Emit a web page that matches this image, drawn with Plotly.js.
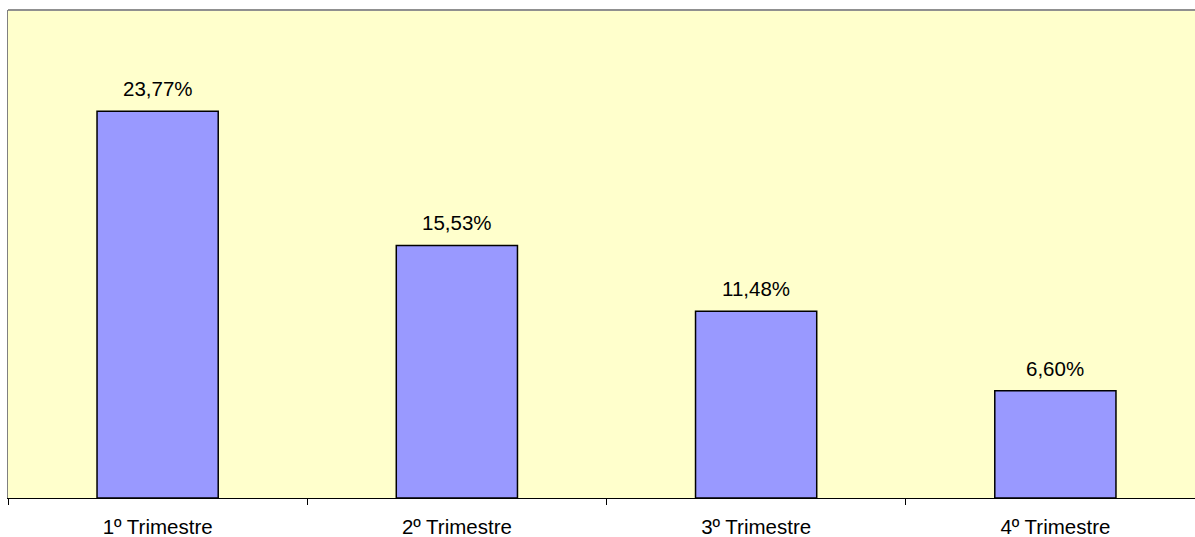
<!DOCTYPE html>
<html>
<head>
<meta charset="utf-8">
<script src="https://cdn.plot.ly/plotly-3.0.1.min.js"></script>
<style>
html,body{margin:0;padding:0;overflow:hidden;background:#fff;}
#chart{width:1206px;height:537px;}
</style>
</head>
<body>
<div id="chart"></div>
<script>
const categories = ["1º Trimestre", "2º Trimestre", "3º Trimestre", "4º Trimestre"];
const values = [23.77, 15.53, 11.48, 6.60];
const labels = ["23,77%", "15,53%", "11,48%", "6,60%"];

const trace = {
  type: "bar",
  x: categories,
  y: values,
  marker: {color: "#9999FF", line: {color: "#000000", width: 1.5}},
  hoverinfo: "none"
};

const annotations = categories.map((c, i) => ({
  x: c, y: values[i], xref: "x", yref: "y",
  text: labels[i], showarrow: false,
  yanchor: "bottom", yshift: 9,
  font: {family: "Liberation Sans, Arial, sans-serif", size: 20.5, color: "#000"}
}));

const layout = {
  width: 1206, height: 537,
  margin: {l: 8, r: 1, t: 10, b: 39, pad: 0},
  paper_bgcolor: "#FFFFFF",
  plot_bgcolor: "#FFFFCC",
  bargap: 0.595,
  showlegend: false,
  font: {family: "Liberation Sans, Arial, sans-serif", size: 20.5, color: "#000"},
  xaxis: {
    type: "category",
    tickson: "boundaries",
    ticks: "outside", ticklen: 6, tickcolor: "#000", tickwidth: 1,
    showline: true, linecolor: "#000", linewidth: 1,
    showgrid: false, zeroline: false,
    ticklabelstandoff: 10,
    tickfont: {family: "Liberation Sans, Arial, sans-serif", size: 20.5, color: "#000"}
  },
  yaxis: {
    range: [0, 30],
    showgrid: false, zeroline: false, showticklabels: false, ticks: "",
    showline: true, linecolor: "#808080", linewidth: 1.5
  },
  shapes: [{
    type: "line", xref: "paper", yref: "paper",
    x0: 0, x1: 1, y0: 1, y1: 1,
    line: {color: "#909090", width: 2}
  }],
  annotations: annotations
};

Plotly.newPlot("chart", [trace], layout, {staticPlot: true, displayModeBar: false});
</script>
</body>
</html>
